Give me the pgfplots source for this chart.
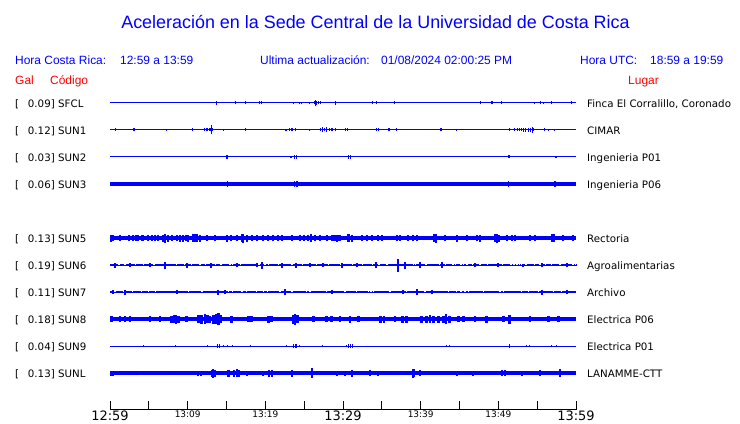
\documentclass[border=0pt]{standalone}
\usepackage{pgfplots}
\pgfplotsset{compat=1.18}
\usepackage{fontspec}
\setmainfont{Liberation Sans}
\newfontfamily\dejavu{DejaVu Sans}
\definecolor{sblue}{RGB}{0,0,255}
\definecolor{sred}{RGB}{255,0,0}
\newcommand{\bigt}[1]{{\fontsize{13}{13}\selectfont #1}}
\pgfplotsset{
  base/.style={sblue, line width=#1, forget plot},
  band/.style={sblue, line width=#1, forget plot, mark=none, unbounded coords=jump},
  spk/.style={sblue, line width=#1, forget plot, mark=none,
     quiver={u=0, v=2*\thisrow{e}, every arrow/.append style={line width=#1, sblue}}},
}
\begin{document}
\begin{tikzpicture}[x=1bp,y=1bp]
\path[use as bounding box] (0,0) rectangle (740,423);
\begin{axis}[
  at={(110bp,13.5bp)}, anchor=south west,
  scale only axis, width=466bp, height=319.5bp,
  xmin=0, xmax=60, ymin=-409.5, ymax=-90,
  axis x line*=bottom, axis y line=none,
  clip=false,
  xtick={0,5,...,60},
  xticklabels={\bigt{12:59},,13:09,,13:19,,\bigt{13:29},,13:39,,13:49,,\bigt{13:59}},
  tick align=inside,
  major tick length=9bp,
  every tick/.style={black, line width=0.8bp},
  x axis line style={black, line width=0.8bp},
  xticklabel style={font=\dejavu\fontsize{9}{9}\selectfont, inner sep=1bp, anchor=north},
  ytick=\empty,
]
% SFCL
\addplot[base=1bp] coordinates {(0,-103) (60,-103)};
\addplot[spk=1bp] table[x=t, y expr=-103-\thisrow{e}, row sep=\\] {t e\\
13.74 2\\ 16.13 1.5\\ 17.42 1.5\\ 19.31 1.5\\ 19.45 1.5\\ 23.60 1\\ 24.35 1.3\\ 24.6 1.3\\ 25.66 1\\
26.27 1.5\\ 26.49 3\\ 26.65 2\\ 26.85 1.5\\ 27.10 1.5\\ 28.97 2\\ 33.83 1.5\\ 34.25 1.5\\ 36.61 1.5\\
47.64 1.5\\ 49.10 1.5\\ 49.25 1.5\\ 50.38 1.5\\ 54.63 1\\ 55.37 1.5\\ 55.79 1\\ 56.87 1.5\\ 59.40 1.5\\};
% SUN1
\addplot[base=1bp] coordinates {(0,-130) (60,-130)};
\addplot[spk=1bp] table[x=t, y expr=-130-\thisrow{e}, row sep=\\] {t e\\
0.68 1.5\\ 3.00 1.5\\ 3.10 1.5\\ 7.25 0.8\\ 10.60 1.5\\ 12.17 1.5\\ 12.36 1.5\\ 12.55 1.5\\ 12.75 1.5\\
12.94 1.5\\ 13.04 4.5\\ 13.20 1.5\\ 14.59 1\\ 17.42 1.5\\ 22.55 1.3\\ 22.75 1.3\\ 23.11 1.5\\ 23.31 1.5\\
23.56 1.5\\ 23.82 1.5\\ 25.66 1\\ 27.10 1.5\\ 27.39 2.5\\ 27.62 1.5\\ 27.90 2.5\\ 28.20 1.5\\ 28.46 1.5\\
28.71 1.5\\ 28.97 1.5\\ 30.30 1.5\\ 30.61 1.5\\ 34.31 1.5\\ 34.57 1.5\\ 35.86 1.5\\ 36.05 1.5\\ 36.86 1.5\\
42.49 1.5\\ 42.68 1.5\\ 44.59 1\\ 51.41 1.5\\ 52.08 1.5\\ 52.41 1.5\\ 52.66 1.5\\ 52.92 1.5\\ 53.18 2\\
53.56 2\\ 53.82 2\\ 54.08 2\\ 54.43 3\\ 54.59 1.5\\ 55.92 1.5\\ 56.44 1\\ 57.21 1\\};
% SUN2
\addplot[base=1bp] coordinates {(0,-157) (60,-157)};
\addplot[spk=1.2bp] table[x=t, y expr=-157-\thisrow{e}, row sep=\\] {t e\\
15.03 2\\ 15.13 2\\ 23.31 0.7\\ 23.76 1.7\\ 24.01 1.7\\ 30.71 1.7\\ 30.97 1.7\\ 51.38 1.5\\ 57.43 1\\};
% SUN3
\addplot[base=3.4bp] coordinates {(0,-184) (60,-184)};
\addplot[spk=1.2bp] table[x=t, y expr=-184-\thisrow{e}, row sep=\\] {t e\\
15.10 2.8\\ 23.76 2.8\\ 24.08 2.8\\ 30.81 2.3\\ 36.05 2.2\\ 48.03 2.2\\ 51.29 2.8\\ 57.30 2.8\\};
% SUN5
\addplot[base=4.8bp] coordinates {(0,-238) (60,-238)};
\addplot[spk=2.2bp] table[x=t, y expr=-238-\thisrow{e}, row sep=\\] {t e\\
0.09 3.5\\ 0.42 3\\ 1.29 3\\ 2.49 3\\ 3.00 3.2\\ 3.35 3\\ 3.64 3.2\\ 4.08 3\\ 4.29 3.2\\ 4.93 3\\
5.37 3.2\\ 5.79 3\\ 6.22 3.2\\ 6.86 3.5\\ 7.08 4.5\\ 7.51 3.5\\ 7.94 3\\ 8.59 3.2\\ 9.01 3.5\\ 9.44 3.5\\
9.79 3.2\\ 10.08 3.5\\ 10.65 4\\ 10.94 4\\ 11.24 4\\ 11.59 3.5\\ 12.45 3\\ 13.52 3\\ 15.03 3.5\\ 15.54 3.2\\
16.31 3\\ 16.96 4\\ 17.16 4.5\\ 17.60 3.5\\ 18.25 3\\ 18.89 3\\ 19.74 3.2\\ 20.38 3\\ 21.03 3\\ 21.67 3\\
22.11 3\\ 23.40 2.8\\ 24.46 3.2\\ 24.98 3\\ 25.53 3.2\\ 25.84 4\\ 26.40 3.2\\ 27.04 3\\ 27.90 3\\ 28.55 3.2\\
28.75 3\\ 28.97 3.2\\ 29.27 3.5\\ 29.40 3\\ 29.61 3.2\\ 30.68 3.8\\ 30.81 4\\ 31.12 3.5\\ 32.41 3\\ 33.05 3.2\\
33.70 3\\ 34.55 3.2\\ 34.98 3.2\\ 36.91 3\\ 37.34 3\\ 38.41 3.2\\ 39.05 3\\ 39.49 3\\ 41.72 4\\ 41.98 4.5\\
43.13 3.2\\ 44.64 3.5\\ 45.93 3\\ 47.22 3.2\\ 47.64 3.5\\ 49.57 4\\ 49.79 4.5\\ 50.13 3.5\\ 51.08 3.2\\ 51.72 3\\
52.15 3.2\\ 54.08 3\\ 54.72 3.2\\ 56.87 4\\ 57.17 3.8\\ 58.37 3\\ 59.65 3\\};
% SUN6: thick segments with short breaks, thin trace, spikes
\addplot[band=2.9bp] coordinates {
(0,-265)(1.06,-265)(1.16,nan) (1.26,-265)(1.83,-265)(1.93,nan) (2.03,-265)(3.21,-265)(3.31,nan)
(3.41,-265)(4.19,-265)(4.29,nan) (4.39,-265)(5.57,-265)(5.67,nan) (5.77,-265)(8.49,-265)(8.59,nan)
(8.69,-265)(9.47,-265)(9.57,nan) (9.67,-265)(10.42,-265)(10.52,nan) (10.62,-265)(11.49,-265)(11.59,nan)
(11.69,-265)(12.22,-265)(12.32,nan) (12.42,-265)(13.51,-265)(13.61,nan) (13.71,-265)(14.19,-265)(14.29,nan)
(14.39,-265)(15.35,-265)(15.45,nan) (15.55,-265)(15.70,-265)(15.80,nan) (15.90,-265)(16.73,-265)(16.83,nan)
(16.93,-265)(19.09,-265)(19.19,nan) (19.29,-265)(19.86,-265)(19.96,nan) (20.06,-265)(20.28,-265)(20.38,nan)
(20.48,-265)(21.57,-265)(21.67,nan) (21.77,-265)(23.30,-265)(23.40,nan) (23.50,-265)(24.66,-265)(24.76,nan)
(24.86,-265)(26.51,-265)(26.61,nan) (26.71,-265)(28.01,-265)(28.11,nan) (28.21,-265)(29.61,-265)(29.71,nan)
(29.81,-265)(31.10,-265)(31.20,nan) (31.30,-265)(32.39,-265)(32.49,nan) (32.59,-265)(33.67,-265)(33.77,nan)
(33.87,-265)(34.54,-265)(34.64,nan) (34.74,-265)(35.57,-265)(35.67,nan) (35.77,-265)(38.95,-265)(39.05,nan)
(39.15,-265)(39.26,-265)(39.36,nan) (39.46,-265)(40.59,-265)(40.69,nan) (40.79,-265)(42.30,-265)(42.40,nan)
(42.50,-265)(43.12,-265)(43.22,nan) (43.32,-265)(44.03,-265)(44.13,nan) (44.23,-265)(44.41,-265)(44.51,nan)
(44.61,-265)(45.09,-265)(45.19,nan) (45.29,-265)(45.44,-265)(45.54,nan) (45.64,-265)(45.83,-265)(45.93,nan)
(46.03,-265)(46.55,-265)(46.65,nan) (46.75,-265)(47.54,-265)(47.64,nan) (47.74,-265)(48.48,-265)(48.58,nan)
(48.68,-265)(49.82,-265)(49.92,nan) (50.02,-265)(50.41,-265)(50.51,nan) (50.61,-265)(51.53,-265)(51.63,nan)
(51.73,-265)(51.90,-265)(52.00,nan) (52.10,-265)(52.27,-265)(52.37,nan) (52.47,-265)(52.65,-265)(52.75,nan)
(52.85,-265)(52.90,-265)(53.00,nan) (53.10,-265)(53.43,-265)(53.53,nan) (53.63,-265)(54.53,-265)(54.63,nan)
(54.73,-265)(55.27,-265)(55.37,nan) (55.47,-265)(56.00,-265)(56.10,nan) (56.20,-265)(56.77,-265)(56.87,nan)
(56.97,-265)(57.84,-265)(57.94,nan) (58.04,-265)(59.48,-265)(59.58,nan) (59.68,-265)(59.77,-265)(59.87,nan)
(59.97,-265)(60,-265)};
\addplot[base=1bp] coordinates {(0,-265) (60,-265)};
\addplot[spk=2bp] table[x=t, y expr=-265-\thisrow{e}, row sep=\\] {t e\\
0.64 2.5\\ 2.58 2\\ 5.15 2\\ 7.08 3.5\\ 9.87 2.5\\ 13.00 2.5\\ 16.31 2\\ 18.89 2\\ 19.61 3.5\\ 22.11 2.5\\
23.91 2.5\\ 25.75 2\\ 27.47 2\\ 29.91 2.5\\ 31.76 2\\ 34.21 3\\ 37.12 6.5\\ 37.98 3.5\\ 39.92 3\\
42.71 3\\ 47.00 2\\ 50.00 2\\ 53.22 1.5\\ 55.59 2\\ 58.80 2\\};
% SUN7
\addplot[band=2.8bp] coordinates {
(0,-292)(0.54,-292)(0.64,nan) (0.74,-292)(1.61,-292)(1.71,nan) (1.81,-292)(2.82,-292)(2.92,nan)
(3.02,-292)(3.98,-292)(4.08,nan) (4.18,-292)(4.83,-292)(4.93,nan) (5.03,-292)(5.78,-292)(5.88,nan)
(5.98,-292)(9.98,-292)(10.08,nan) (10.18,-292)(11.71,-292)(11.81,nan) (11.91,-292)(15.13,-292)(15.23,nan)
(15.33,-292)(15.65,-292)(15.75,nan) (15.85,-292)(16.86,-292)(16.96,nan) (17.06,-292)(17.50,-292)(17.60,nan)
(17.70,-292)(18.79,-292)(18.89,nan) (18.99,-292)(19.64,-292)(19.74,nan) (19.84,-292)(20.15,-292)(20.25,nan)
(20.35,-292)(21.79,-292)(21.89,nan) (21.99,-292)(23.30,-292)(23.40,nan) (23.50,-292)(25.22,-292)(25.32,nan)
(25.42,-292)(25.65,-292)(25.75,nan) (25.85,-292)(27.80,-292)(27.90,nan) (28.00,-292)(30.16,-292)(30.26,nan)
(30.36,-292)(31.66,-292)(31.76,nan) (31.86,-292)(33.16,-292)(33.26,nan) (33.36,-292)(33.50,-292)(33.60,nan)
(33.70,-292)(33.80,-292)(33.90,nan) (34.00,-292)(35.95,-292)(36.05,nan) (36.15,-292)(38.10,-292)(38.20,nan)
(38.30,-292)(40.46,-292)(40.56,nan) (40.66,-292)(43.46,-292)(43.56,nan) (43.66,-292)(44.54,-292)(44.64,nan)
(44.74,-292)(45.09,-292)(45.19,nan) (45.29,-292)(45.61,-292)(45.71,nan) (45.81,-292)(46.03,-292)(46.13,nan)
(46.23,-292)(47.97,-292)(48.07,nan) (48.17,-292)(50.12,-292)(50.22,nan) (50.32,-292)(50.54,-292)(50.64,nan)
(50.74,-292)(52.91,-292)(53.01,nan) (53.11,-292)(53.76,-292)(53.86,nan) (53.96,-292)(55.05,-292)(55.15,nan)
(55.25,-292)(56.98,-292)(57.08,nan) (57.18,-292)(58.06,-292)(58.16,nan) (58.26,-292)(60,-292)};
\addplot[base=1bp] coordinates {(0,-292) (60,-292)};
\addplot[spk=2bp] table[x=t, y expr=-292-\thisrow{e}, row sep=\\] {t e\\
0.42 2\\ 1.93 2.5\\ 8.59 2.3\\ 13.95 2.5\\ 14.81 2.3\\ 22.53 3.3\\ 28.55 2\\ 37.69 2.3\\ 39.57 3.3\\
41.42 2.3\\ 55.59 2.5\\ 58.80 2.3\\};
% SUN8
\addplot[base=4.2bp] coordinates {(0,-319) (60,-319)};
\addplot[spk=2.6bp] table[x=t, y expr=-319-\thisrow{e}, row sep=\\] {t e\\
0.21 3\\ 1.29 3\\ 1.93 2.8\\ 2.58 3\\ 5.15 2.7\\ 6.44 2.7\\ 7.94 3.5\\ 8.24 4\\ 8.50 4.5\\ 8.80 3.5\\
9.87 3\\ 11.37 4\\ 11.80 4.5\\ 12.23 5\\ 12.53 4\\ 12.88 3.5\\ 13.30 4.5\\ 13.65 5\\ 13.95 6\\ 14.25 4\\
15.67 3.5\\ 17.81 3\\ 18.25 3\\ 20.38 3.5\\ 20.82 3\\ 23.60 4.5\\ 23.82 5.5\\ 24.12 4\\ 26.18 3\\ 27.90 3\\
28.55 2.7\\ 29.61 2.8\\ 30.90 3.5\\ 31.97 3\\ 34.85 3.5\\ 35.28 3.5\\ 36.70 3\\ 37.69 3.5\\ 38.20 3.5\\
40.13 3.5\\ 40.78 3.5\\ 41.20 4\\ 41.63 3.5\\ 42.27 3.5\\ 42.92 3.5\\ 43.26 5\\ 43.69 3.5\\ 44.85 3\\
45.49 3\\ 47.00 3\\ 48.50 3.5\\ 50.64 2.7\\ 51.41 4.5\\ 54.08 2.7\\ 56.44 3\\ 57.72 3\\};
% SUN9
\addplot[base=1bp] coordinates {(0,-346) (60,-346)};
\addplot[spk=1bp] table[x=t, y expr=-346-\thisrow{e}, row sep=\\] {t e\\
4.29 1.3\\ 8.41 1.3\\ 12.53 1\\ 13.80 1.7\\ 14.05 1.7\\ 14.59 1.3\\ 15.16 1.3\\ 15.75 1.3\\ 18.03 1\\
22.75 1.3\\ 23.63 1.7\\ 23.85 1.7\\ 24.01 1.7\\ 24.34 1\\ 27.39 1\\ 30.39 1.3\\ 30.71 1.7\\ 30.97 1.7\\
31.22 1.7\\ 43.35 1.3\\ 43.69 1.3\\ 51.38 1.7\\ 53.65 1.3\\ 53.99 1.3\\ 56.87 1.3\\ 57.52 1.3\\};
% SUNL
\addplot[base=3.4bp] coordinates {(0,-373) (60,-373)};
\addplot[spk=2.2bp] table[x=t, y expr=-373-\thisrow{e}, row sep=\\] {t e\\
0.09 2.5\\ 0.42 2.5\\ 1.29 2.2\\ 1.71 2.2\\ 2.79 2.3\\ 3.22 2.3\\ 3.51 2.3\\ 4.72 2.2\\ 5.58 2.2\\ 6.65 2.2\\
7.30 2.2\\ 8.59 2.2\\ 9.79 2.2\\ 11.37 2.5\\ 11.67 2.5\\ 13.09 3.5\\ 13.30 4.5\\ 13.52 3.5\\ 15.16 3.5\\
15.36 3.5\\ 15.97 3.5\\ 16.31 4\\ 16.65 3.5\\ 17.60 2.5\\ 19.74 2.5\\ 20.51 3.5\\ 20.82 3.5\\ 23.40 3.5\\
25.97 5\\ 29.19 2.5\\ 30.26 2.5\\ 31.12 3.5\\ 33.48 3\\ 34.55 2.5\\ 36.91 2.2\\ 38.98 4.5\\ 39.14 4\\
39.92 3\\ 44.64 2.5\\ 46.78 2.5\\ 50.43 3\\ 50.86 3\\ 53.01 2.5\\ 55.37 3\\ 56.65 2.2\\ 57.94 4\\ 59.01 2.2\\};
\end{axis}
% header
\node[anchor=base, inner sep=0, sblue, font=\fontsize{18}{18}\selectfont] at (375.5,394) {Aceleración en la Sede Central de la Universidad de Costa Rica};
\begin{scope}[every node/.style={anchor=base west, inner sep=0, font=\fontsize{12}{12}\selectfont}]
\node[sblue] at (15,359) {Hora Costa Rica:};
\node[sblue] at (120,359) {12:59 a 13:59};
\node[sblue] at (260,359) {Ultima actualización:};
\node[sblue] at (381,359) {01/08/2024 02:00:25 PM};
\node[sblue] at (580,359) {Hora UTC:};
\node[sblue] at (650,359) {18:59 a 19:59};
\node[sred] at (15,339) {Gal};
\node[sred] at (50,339) {Código};
\node[sred] at (628,339) {Lugar};
\end{scope}
\begin{scope}[every node/.style={inner sep=0, font=\dejavu\fontsize{10.3}{10.3}\selectfont}]
\foreach \py/\g/\c/\l in {103/0.09/SFCL/{Finca El Corralillo, Coronado}, 130/0.12/SUN1/CIMAR,
  157/0.03/SUN2/Ingenieria P01, 184/0.06/SUN3/Ingenieria P06, 238/0.13/SUN5/Rectoria,
  265/0.19/SUN6/Agroalimentarias, 292/0.11/SUN7/Archivo, 319/0.18/SUN8/Electrica P06,
  346/0.04/SUN9/Electrica P01, 373/0.13/SUNL/LANAMME-CTT} {
  \node[anchor=base west] at (15,{419-\py}) {[};
  \node[anchor=base east] at (55,{419-\py}) {\g]};
  \node[anchor=base west] at (58,{419-\py}) {\c};
  \node[anchor=base west] at (587,{419-\py}) {\l};
}
\end{scope}
\end{tikzpicture}
\end{document}
